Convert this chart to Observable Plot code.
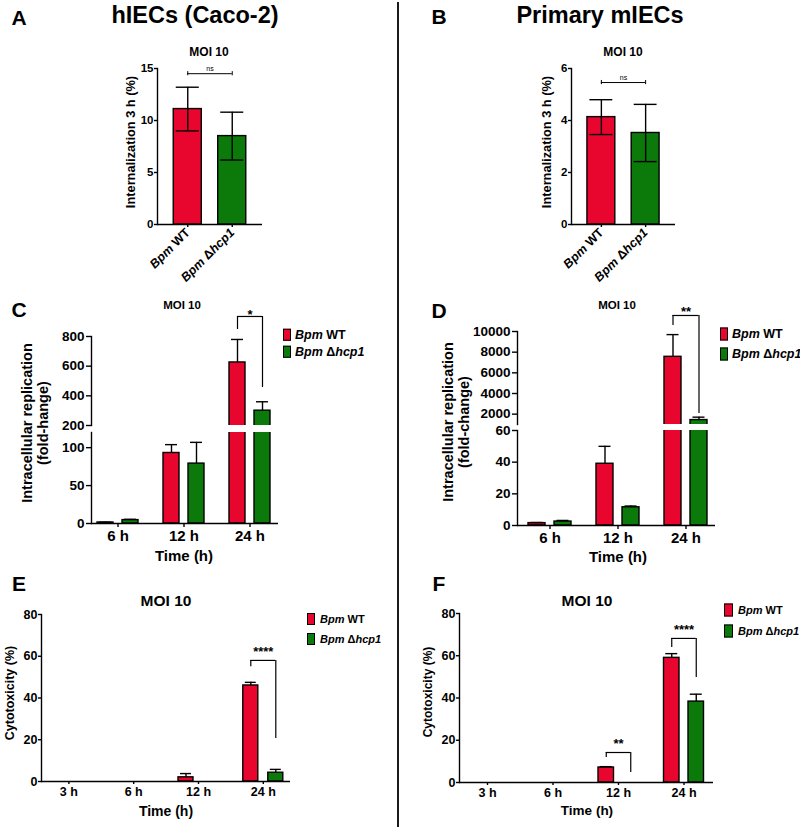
<!DOCTYPE html>
<html><head><meta charset="utf-8">
<script src="https://cdn.jsdelivr.net/npm/d3@7"></script>
<script src="https://cdn.jsdelivr.net/npm/@observablehq/plot@0.6"></script>
<style>
html,body{margin:0;padding:0;background:#fff;}
#root{position:relative;width:800px;height:827px;overflow:hidden;font-family:'Liberation Sans',Arial,Helvetica,sans-serif;font-weight:bold;color:#000;background:#fff;}
.t{position:absolute;white-space:nowrap;transform:translate(-50%,-50%);line-height:1;}
.r{transform:translate(-50%,-50%) rotate(-90deg);text-align:center;}
.leg{position:absolute;display:flex;align-items:center;white-space:nowrap;line-height:1;transform:translateY(-50%);}
.sw{display:inline-block;border:1.5px solid #000;box-sizing:border-box;}
</style></head><body><div id="root"></div>
<script>
// ---------------- data ----------------
const strains = ["Bpm WT", "Bpm Δhcp1"];
const internA = [11.1, 8.5];
const internA_sd = [2.1, 2.3];
const internB = [4.13, 3.52];
const internB_sd = [0.67, 1.1];
const nsA = 14.5;
const nsB = 5.46;

const timesCD = ["6 h", "12 h", "24 h"];
const replC_WT = [1.3, 93, 625];
const replC_WT_sd = [0.4, 11, 155];
const replC_KO = [4.5, 79, 300];
const replC_KO_sd = [1.0, 28, 60];
const replD_WT = [1.5, 39, 7550];
const replD_WT_sd = [0.4, 11, 2150];
const replD_KO = [2.5, 11.5, 1430];
const replD_KO_sd = [0.7, 0.8, 280];

const timesEF = ["3 h", "6 h", "12 h", "24 h"];
const cytoE_WT = [0, 0, 2, 46];
const cytoE_WT_sd = [0, 0, 1.8, 1.5];
const cytoE_KO = [0, 0, 0, 4.2];
const cytoE_KO_sd = [0, 0, 0, 1.6];
const cytoF_WT = [0, 0, 7.1, 59];
const cytoF_WT_sd = [0, 0, 0.4, 2];
const cytoF_KO = [0, 0, 0, 38.3];
const cytoF_KO_sd = [0, 0, 0, 3.5];

const sigC = [{time: "24 h", y: 935, yL: 847, yR: 456, label: "*"}];
const sigD = [{time: "24 h", y: 11550, yL: 10580, yR: 2065, label: "**"}];
const sigE = [{time: "24 h", y: 58, yL: 55, yR: 20.6, label: "****"}];
const sigF = [{time: "12 h", y: 14.2, yL: 11.8, yR: 4.7, label: "**"},
              {time: "24 h", y: 68.2, yL: 63.9, yR: 49.7, label: "****"}];

// ---------------- helpers ----------------
const FONT = "'Liberation Sans', Arial, Helvetica, sans-serif";
const RED = "#e8062f";
const GREEN = "#0b7a0b";
const SW = 1.4;
const root = document.getElementById("root");

function mk({box, frame, x = {}, y = {}, marks, fontSize = 12}) {
  const xo = {...x};
  if (xo.pageRange) { xo.range = xo.pageRange.map(v => v - box.l); delete xo.pageRange; }
  const svg = Plot.plot({
    width: box.w, height: box.h,
    marginLeft: frame.x0 - box.l, marginRight: box.l + box.w - frame.x1,
    marginTop: frame.y0 - box.t, marginBottom: box.t + box.h - frame.y1,
    x: xo, y,
    style: {fontFamily: FONT, fontWeight: "bold", fontSize: fontSize + "px", background: "transparent", color: "#000", overflow: "visible"},
    marks
  });
  svg.style.position = "absolute";
  svg.style.left = box.l + "px";
  svg.style.top = box.t + "px";
  svg.style.maxWidth = "none";
  root.append(svg);
  return svg;
}

function rich(s) { return s.replace(/(Bpm|hcp1)/g, "<i>$1</i>"); }

function italicTicks(svg) {
  svg.querySelectorAll('g[aria-label="x-axis tick label"] text').forEach(el => {
    const s = el.textContent;
    el.textContent = "";
    s.split(/(Bpm|hcp1)/).filter(p => p).forEach(p => {
      const ts = document.createElementNS("http://www.w3.org/2000/svg", "tspan");
      if (p === "Bpm" || p === "hcp1") ts.setAttribute("font-style", "italic");
      ts.textContent = p;
      el.appendChild(ts);
    });
  });
}

function label(html, x, y, size, rotate = false, extra = "") {
  const d = document.createElement("div");
  d.className = "t" + (rotate ? " r" : "");
  d.style.left = x + "px";
  d.style.top = y + "px";
  d.style.fontSize = size + "px";
  if (extra) d.style.cssText += extra;
  d.innerHTML = html;
  root.append(d);
}

function legend(x, yc1, yc2, sw, sh, size, textX) {
  [[strains[0], RED, yc1], [strains[1], GREEN, yc2]].forEach(([s, c, yc]) => {
    const d = document.createElement("div");
    d.className = "leg";
    d.style.left = x + "px";
    d.style.top = yc + "px";
    d.style.fontSize = size + "px";
    d.innerHTML = `<span class="sw" style="width:${sw}px;height:${sh}px;background:${c};margin-right:${textX - x - sw}px"></span><span>${rich(s)}</span>`;
    root.append(d);
  });
}

function rowsOf(times, wt, wtsd, ko, kosd) {
  return times.flatMap((t, i) => [
    {time: t, strain: "WT", v: wt[i], sd: wtsd[i]},
    {time: t, strain: "KO", v: ko[i], sd: kosd[i]}
  ]);
}

function groupMarks(rows, g, clip) {
  const out = [];
  [["WT", RED, -1], ["KO", GREEN, 1]].forEach(([s, col, sg]) => {
    const d = rows.filter(r => r.strain === s && r.v > 0);
    const e = d.filter(r => r.sd > 0);
    const c = sg * g.off;
    out.push(Plot.barY(d, {x: "time", y: "v", fill: col, stroke: "#000", strokeWidth: SW,
      insetLeft: g.half + c - g.barW / 2, insetRight: g.half - c - g.barW / 2, clip}));
    out.push(Plot.ruleX(e, {x: "time", y1: "v", y2: r => r.v + r.sd, dx: c, stroke: "#000", strokeWidth: SW, clip}));
    out.push(Plot.tickY(e, {x: "time", y: r => r.v + r.sd, stroke: "#000", strokeWidth: SW,
      insetLeft: g.half + c - g.capW / 2, insetRight: g.half - c - g.capW / 2, clip}));
  });
  return out;
}

function bracketMarks(br, g, dy, fs) {
  return [
    Plot.ruleY(br, {y: "y", x1: "time", x2: "time", insetLeft: g.half - g.off, insetRight: g.half - g.off, stroke: "#000", strokeWidth: 1.2}),
    Plot.ruleX(br, {x: "time", y1: "yL", y2: "y", dx: -g.off, stroke: "#000", strokeWidth: 1.2}),
    Plot.ruleX(br, {x: "time", y1: "yR", y2: "y", dx: g.off, stroke: "#000", strokeWidth: 1.2}),
    Plot.text(br, {x: "time", y: "y", text: "label", dy, fontSize: fs, fontWeight: "bold"})
  ];
}

function internPanel({vals, sds, box, frame, yDomain, yTicks, nsY, capH, pad}) {
  const data = strains.map((s, i) => ({strain: s, v: vals[i], sd: sds[i]}));
  const step = (frame.x1 - frame.x0) / (2 - pad[0] + 2 * pad[1]);
  const bw = step * (1 - pad[0]);
  const svg = mk({
    box, frame, fontSize: 11.5,
    x: {domain: strains, paddingInner: pad[0], paddingOuter: pad[1], round: false},
    y: {domain: yDomain},
    marks: [
      Plot.barY(data, {x: "strain", y: "v", fill: (d, i) => i === 0 ? RED : GREEN, stroke: "#000", strokeWidth: SW}),
      Plot.ruleX(data, {x: "strain", y1: d => d.v - d.sd, y2: d => d.v + d.sd, stroke: "#000", strokeWidth: SW}),
      Plot.tickY(data, {x: "strain", y: d => d.v + d.sd, insetLeft: 2.5, insetRight: 2.5, stroke: "#000", strokeWidth: SW}),
      Plot.tickY(data, {x: "strain", y: d => d.v - d.sd, insetLeft: 2.5, insetRight: 2.5, stroke: "#000", strokeWidth: SW}),
      Plot.ruleY([nsY], {y: d => d, x1: () => strains[0], x2: () => strains[1], insetLeft: bw / 2, insetRight: bw / 2, stroke: "#000", strokeWidth: 1}),
      Plot.ruleX(strains, {x: d => d, y1: () => nsY - capH, y2: () => nsY + capH, stroke: "#000", strokeWidth: 1}),
      Plot.text([nsY], {x: () => strains[0], y: d => d, text: () => "ns", dx: step / 2, dy: -5, fontSize: 7, fontWeight: "normal", fill: "#000"}),
      Plot.ruleY([0], {strokeWidth: SW}),
      Plot.frame({anchor: "left", strokeWidth: SW}),
      Plot.axisY({ticks: yTicks, tickFormat: d => String(d), tickSize: 3, tickPadding: 1, label: null, fontSize: 11.5, strokeWidth: SW}),
      Plot.axisX({tickRotate: -45, tickSize: 3, tickPadding: 3, label: null, fontSize: 12.5, strokeWidth: SW})
    ]
  });
  italicTicks(svg);
}

// ---------------- Panel A & B ----------------
internPanel({vals: internA, sds: internA_sd, box: {l: 0, t: 40, w: 400, h: 250},
  frame: {x0: 157, x1: 262, y0: 68, y1: 224}, yDomain: [0, 15], yTicks: [0, 5, 10, 15], nsY: nsA, capH: 0.2, pad: [0.37, 0.365]});
internPanel({vals: internB, sds: internB_sd, box: {l: 400, t: 40, w: 400, h: 250},
  frame: {x0: 571, x1: 675, y0: 68, y1: 224}, yDomain: [0, 6], yTicks: [0, 2, 4, 6], nsY: nsB, capH: 0.08, pad: [0.37, 0.36]});

// ---------------- Panel C ----------------
const rowsC = rowsOf(timesCD, replC_WT, replC_WT_sd, replC_KO, replC_KO_sd);
const gC = {half: 33, off: 12.5, barW: 16, capW: 12};
const xC = {type: "band", domain: timesCD, pageRange: [84.5, 282.5], padding: 0, round: false};
mk({box: {l: 0, t: 420, w: 400, h: 145}, frame: {x0: 91, x1: 278, y0: 432, y1: 523}, fontSize: 13.5,
  x: xC, y: {domain: [0, 120]},
  marks: [
    ...groupMarks(rowsC, gC, true),
    Plot.ruleY([0], {strokeWidth: SW}),
    Plot.frame({anchor: "left", strokeWidth: SW}),
    Plot.axisY({ticks: [0, 50, 100], tickSize: 5, tickPadding: 2, label: null, fontSize: 13.5, strokeWidth: SW}),
    Plot.axisX({tickSize: 4, tickPadding: 3, label: null, fontSize: 15, strokeWidth: SW})
  ]});
mk({box: {l: 0, t: 290, w: 400, h: 140}, frame: {x0: 91, x1: 278, y0: 336, y1: 425}, fontSize: 13.5,
  x: {...xC, axis: null}, y: {domain: [200, 800]},
  marks: [
    ...groupMarks(rowsC, gC, true),
    Plot.frame({anchor: "left", strokeWidth: SW}),
    Plot.axisY({ticks: [200, 400, 600, 800], tickSize: 5, tickPadding: 2, label: null, fontSize: 13.5, strokeWidth: SW}),
    ...bracketMarks(sigC, gC, -2, 13)
  ]});

// ---------------- Panel D ----------------
const rowsD = rowsOf(timesCD, replD_WT, replD_WT_sd, replD_KO, replD_KO_sd);
const gD = {half: 34, off: 13, barW: 17, capW: 12};
const xD = {type: "band", domain: timesCD, pageRange: [515.5, 719.5], padding: 0, round: false};
mk({box: {l: 400, t: 420, w: 400, h: 145}, frame: {x0: 517, x1: 715, y0: 430, y1: 525}, fontSize: 13.5,
  x: xD, y: {domain: [0, 60]},
  marks: [
    ...groupMarks(rowsD, gD, true),
    Plot.ruleY([0], {strokeWidth: SW}),
    Plot.frame({anchor: "left", strokeWidth: SW}),
    Plot.axisY({ticks: [0, 20, 40, 60], tickSize: 5, tickPadding: 2, label: null, fontSize: 13.5, strokeWidth: SW}),
    Plot.axisX({tickSize: 4, tickPadding: 3, label: null, fontSize: 15, strokeWidth: SW})
  ]});
mk({box: {l: 400, t: 290, w: 400, h: 140}, frame: {x0: 517, x1: 715, y0: 331, y1: 424}, fontSize: 13.5,
  x: {...xD, axis: null}, y: {domain: [1000, 10000]},
  marks: [
    ...groupMarks(rowsD, gD, true),
    Plot.frame({anchor: "left", strokeWidth: SW}),
    Plot.axisY({ticks: [2000, 4000, 6000, 8000, 10000], tickFormat: d => String(d), tickSize: 5, tickPadding: 2, label: null, fontSize: 13.5, strokeWidth: SW}),
    ...bracketMarks(sigD, gD, -4, 13)
  ]});

// ---------------- Panel E ----------------
const rowsE = rowsOf(timesEF, cytoE_WT, cytoE_WT_sd, cytoE_KO, cytoE_KO_sd);
const gE = {half: 32.4, off: 12.5, barW: 15, capW: 11};
mk({box: {l: 0, t: 590, w: 400, h: 237}, frame: {x0: 41, x1: 290, y0: 614, y1: 781}, fontSize: 12.5,
  x: {type: "band", domain: timesEF, pageRange: [36, 295.2], padding: 0, round: false}, y: {domain: [0, 80]},
  marks: [
    ...groupMarks(rowsE, gE, false),
    Plot.ruleY([0], {strokeWidth: SW}),
    Plot.frame({anchor: "left", strokeWidth: SW}),
    Plot.axisY({ticks: [0, 20, 40, 60, 80], tickSize: 3, tickPadding: 1, label: null, fontSize: 12.5, strokeWidth: SW}),
    Plot.axisX({tickSize: 3, tickPadding: 3, label: null, fontSize: 12.5, strokeWidth: SW}),
    ...bracketMarks(sigE, gE, -9, 13)
  ]});

// ---------------- Panel F ----------------
const rowsF = rowsOf(timesEF, cytoF_WT, cytoF_WT_sd, cytoF_KO, cytoF_KO_sd);
const gF = {half: 32.75, off: 12.25, barW: 15.5, capW: 12};
mk({box: {l: 400, t: 590, w: 400, h: 237}, frame: {x0: 459, x1: 713, y0: 613, y1: 782}, fontSize: 12.5,
  x: {type: "band", domain: timesEF, pageRange: [454.25, 716.25], padding: 0, round: false}, y: {domain: [0, 80]},
  marks: [
    ...groupMarks(rowsF, gF, false),
    Plot.ruleY([0], {strokeWidth: SW}),
    Plot.frame({anchor: "left", strokeWidth: SW}),
    Plot.axisY({ticks: [0, 20, 40, 60, 80], tickSize: 3, tickPadding: 1, label: null, fontSize: 12.5, strokeWidth: SW}),
    Plot.axisX({tickSize: 3, tickPadding: 3, label: null, fontSize: 12.5, strokeWidth: SW}),
    ...bracketMarks(sigF, gF, -9, 13)
  ]});

// ---------------- text overlays ----------------
label("A", 19, 17, 21);
label("hIECs (Caco-2)", 195, 16, 23.5);
label("B", 439, 16, 21);
label("Primary mIECs", 600, 16, 23.5);
label("MOI 10", 209, 52, 12);
label("MOI 10", 623, 52, 12);
label("Internalization 3 h (%)", 131, 142, 12.8, true);
label("Internalization 3 h (%)", 547, 142, 12.8, true);

label("C", 19, 309, 21);
label("D", 439, 310, 21);
label("MOI 10", 182, 306, 11.5);
label("MOI 10", 617, 306, 11.5);
label("Intracellular replication<br>(fold-hange)", 35, 423, 14.5, true, "line-height:16px;");
label("Intracellular replication<br>(fold-change)", 455.5, 422, 14.5, true, "line-height:16px;");
label("Time (h)", 184, 555, 15);
label("Time (h)", 618, 556, 15);
legend(283, 335, 352, 8, 12, 12.5, 295);
legend(720, 333.5, 353.5, 8, 13, 12.5, 732);

label("E", 19, 583, 21);
label("F", 439, 583, 21);
label("MOI 10", 166, 601, 15.5);
label("MOI 10", 587, 601, 15.5);
label("Cytotoxicity (%)", 10, 693, 12.5, true);
label("Cytotoxicity (%)", 427.5, 692, 12, true);
label("Time (h)", 166, 811, 14);
label("Time (h)", 587, 811, 13.5);
legend(307, 619, 639, 8, 12, 11, 320);
legend(724, 609.5, 631, 9, 13, 11, 738);

// divider
const div = document.createElement("div");
div.style.cssText = "position:absolute;left:397px;top:2px;width:2px;height:825px;background:#1a1a1a;";
root.append(div);
</script></body></html>
